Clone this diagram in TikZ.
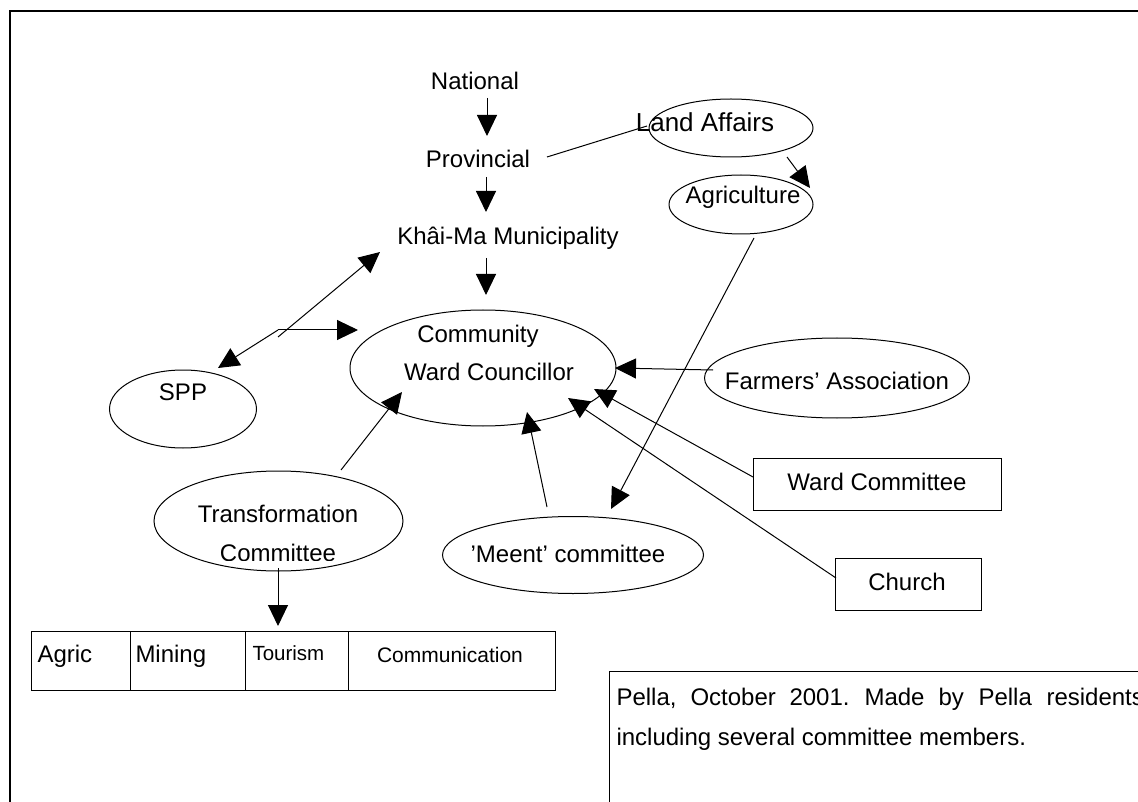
\documentclass[tikz,border=0pt]{standalone}
\usepackage{fontspec}
\setmainfont{Liberation Sans}
\usetikzlibrary{shapes.geometric,arrows.meta}
\begin{document}
\begin{tikzpicture}[x=1pt,y=-1pt,
  line width=1pt,
  oval/.style={draw, ellipse, inner sep=0pt, line width=1pt},
  box/.style={draw, rectangle, inner sep=0pt, line width=1pt},
  lbl/.style={inner sep=0pt, anchor=base},
  fA/.style={font=\fontsize{24}{28}\selectfont},
  fC/.style={font=\fontsize{21}{25}\selectfont},
  fT/.style={font=\fontsize{20.5}{24}\selectfont},
  fE/.style={font=\fontsize{26}{30}\selectfont},
  arr/.style={-{Triangle[length=21pt,width=20pt]}},
  link/.style={line width=1pt}]
\useasboundingbox (0,0) rectangle (1138,802);
\clip (0,0) rectangle (1138,802);
% outer frame
\draw[line width=1.6pt] (10,830) -- (10,11) -- (1160,11);

% shapes
\node[oval, minimum width=164pt, minimum height=58pt] (land) at (731,128) {};
\node[oval, minimum width=144pt, minimum height=59pt] (agri) at (741,204.5) {};
\node[oval, minimum width=266pt, minimum height=116pt] (comm) at (483,368) {};
\node[oval, minimum width=147pt, minimum height=78pt] (spp) at (183,409) {};
\node[oval, minimum width=265pt, minimum height=80pt] (farm) at (837,378) {};
\node[oval, minimum width=261pt, minimum height=77pt] (meent) at (573,555) {};
\node[oval, minimum width=249pt, minimum height=100pt] (trans) at (278.5,521) {};
\node[box, minimum width=248pt, minimum height=52pt, anchor=north west] (ward) at (753,458) {};
\node[box, minimum width=146pt, minimum height=52pt, anchor=north west] (church) at (835,558) {};
\node[box, minimum width=99pt, minimum height=59pt, anchor=north west] (cagric) at (31,631) {};
\node[box, minimum width=115pt, minimum height=59pt, anchor=north west] (cmining) at (130,631) {};
\node[box, minimum width=103pt, minimum height=59pt, anchor=north west] (ctourism) at (245,631) {};
\node[box, minimum width=207pt, minimum height=59pt, anchor=north west] (ccomm) at (348,631) {};
\node[box, minimum width=600pt, minimum height=240pt, anchor=north west] (caption) at (609,671) {};

% texts
\node[lbl, fA] (national) at (475,90) {National};
\node[lbl, fA] (provincial) at (478,168) {Provincial};
\node[lbl, fA] (khaima) at (508,245) {Khâi-Ma Municipality};
\node[lbl, fE] (landtxt) at (705,132) {Land Affairs};
\node[lbl, fA] (agritxt) at (743,204) {Agriculture};
\node[lbl, fA] (commtxt1) at (478,342) {Community};
\node[lbl, fA] (commtxt2) at (489,381) {Ward Councillor};
\node[lbl, fA] (spptxt) at (183,400) {SPP};
\node[lbl, fA] (farmtxt) at (837,389) {Farmers’ Association};
\node[lbl, fA] (wardtxt) at (877,490) {Ward Committee};
\node[lbl, fA] (churchtxt) at (907,590) {Church};
\node[lbl, fA] (meenttxt) at (568,562) {’Meent’ committee};
\node[lbl, fA] (transtxt1) at (278,522) {Transformation};
\begin{scope}
\clip (150,530) rectangle (400,560);
\node[lbl, fA] (transtxt2) at (278,561.5) {Committee};
\end{scope}
\node[lbl, fA, anchor=base west] (agrictxt) at (37,662) {Agric};
\node[lbl, fA, anchor=base west] (miningtxt) at (135,662) {Mining};
\node[lbl, fT, anchor=base west] (tourismtxt) at (252,660) {Tourism};
\node[lbl, fC] (commutxt) at (450,662) {Communication};
% caption (justified first line)
\node[lbl, fA, anchor=base west] (w1) at (616,705) {Pella,};
\node[lbl, fA, anchor=base west] (w2) at (690,705) {October};
\node[lbl, fA, anchor=base west] (w3) at (789,705) {2001.};
\node[lbl, fA, anchor=base west] (w4) at (864,705) {Made};
\node[lbl, fA, anchor=base west] (w5) at (938,705) {by};
\node[lbl, fA, anchor=base west] (w6) at (978,705) {Pella};
\node[lbl, fA, anchor=base west] (w7) at (1046,705) {residents};
\node[lbl, fA, anchor=base west] (line2) at (616,745) {including several committee members.};

% connector end points
\coordinate (nP1) at (487,98);   \coordinate (nP2) at (487,136);
\coordinate (pK1) at (486,177);  \coordinate (pK2) at (486,212);
\coordinate (kC1) at (486,258);  \coordinate (kC2) at (486,295);
\coordinate (pL1) at (547,157);  \coordinate (pL2) at (647,126);
\coordinate (lA1) at (787,157);  \coordinate (lA2) at (810,188);
\coordinate (aM1) at (754,238);  \coordinate (aM2) at (611,509);
\coordinate (fork) at (278,330); \coordinate (fork2) at (278,337);
\coordinate (sppTip) at (218,368);
\coordinate (commTipL) at (358,330);
\coordinate (khaiTip) at (380,252);
\coordinate (fC1) at (713,370);  \coordinate (fC2) at (615,368);
\coordinate (wC1) at (753,477);  \coordinate (wC2) at (594,389);
\coordinate (cC1) at (836,578);  \coordinate (cC2) at (568,398);
\coordinate (mC1) at (547,507);  \coordinate (mC2) at (527,412);
\coordinate (tC1) at (341,470);  \coordinate (tC2) at (402,392);
\coordinate (tT1) at (278,568);  \coordinate (tT2) at (278,626);

% connectors
\draw[arr] (nP1) -- (nP2);
\draw[arr] (pK1) -- (pK2);
\draw[arr] (kC1) -- (kC2);
\draw[link] (pL1) -- (pL2);
\draw[arr] (lA1) -- (lA2);
\draw[arr] (aM1) -- (aM2);
\draw[arr] (fork) -- (sppTip);
\draw[arr] (fork) -- (commTipL);
\draw[arr] (fork2) -- (khaiTip);
\draw[arr] (fC1) -- (fC2);
\draw[arr] (wC1) -- (wC2);
\draw[arr] (cC1) -- (cC2);
\draw[arr] (mC1) -- (mC2);
\draw[arr] (tC1) -- (tC2);
\draw[arr] (tT1) -- (tT2);
\end{tikzpicture}
\end{document}
